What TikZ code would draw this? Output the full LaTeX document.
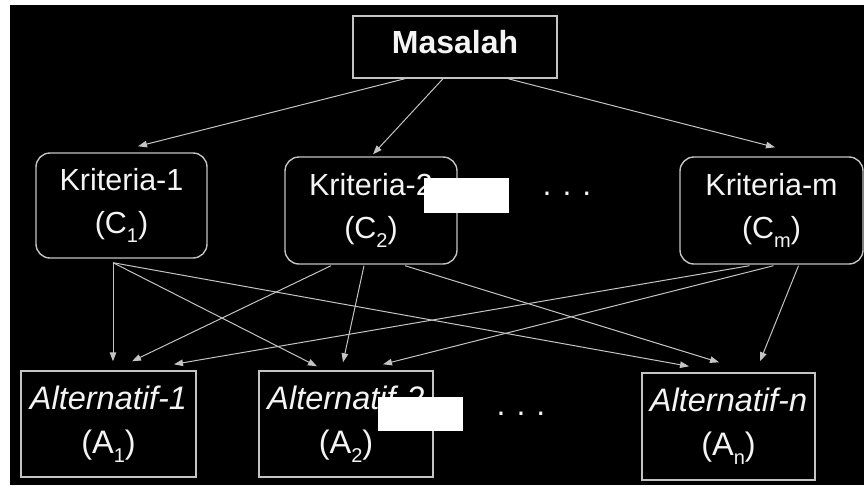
\documentclass[tikz,border=0pt]{standalone}
\usepackage{fontspec}
\setmainfont{Liberation Sans}
\usetikzlibrary{arrows.meta}
\definecolor{edge}{HTML}{C4C4C4}
\definecolor{ink}{HTML}{F4F4F4}
\newcommand\sbs[1]{\raisebox{-0.28em}{\fontsize{20}{20}\selectfont #1}}
\begin{document}
\begin{tikzpicture}[x=1pt,y=-1pt,
  box/.style={draw=edge, line width=1.4pt, text=ink, align=center, inner sep=0pt},
  crit/.style={box, rounded corners=14pt, font=\fontsize{30.5}{43}\selectfont},
  alt/.style={box, font=\fontsize{32.5}{44}\selectfont},
  link/.style={draw=edge, line width=1pt, -{Triangle[length=9pt,width=6.5pt]}},
  dots/.style={text=ink, anchor=base, inner sep=0pt, font=\fontsize{32}{32}\selectfont},
  mask/.style={fill=white},
]
% page and dark canvas
\fill[white] (0,0) rectangle (864,485);
\useasboundingbox (0,0) rectangle (864,485);
\fill[black] (10,5) rectangle (864,485);

% goal
\node[box, minimum width=204pt, minimum height=62pt,
      font=\bfseries\fontsize{32}{38}\selectfont,
      text height=23pt, text depth=10pt] (mas) at (455,47) {Masalah};

% criteria
\node[crit, minimum width=171pt, minimum height=105pt] (k1) at (121.5,205.5) {Kriteria-1\\(C\sbs{1})};
\node[crit, minimum width=172pt, minimum height=107pt] (k2) at (371,210.5) {Kriteria-2\\(C\sbs{2})};
\node[crit, minimum width=183pt, minimum height=107pt] (km) at (771.5,210.5) {Kriteria-m\\(C\sbs{m})};
\node[dots] (kdots) at (567,195.5) {.\hspace{11pt}.\hspace{11pt}.};

% alternatives
\node[alt, minimum width=175pt, minimum height=106pt] (a1) at (108.5,424) {\itshape Alternatif-1\\(A\sbs{1})};
\node[alt, minimum width=174pt, minimum height=106pt] (a2) at (346,424) {\itshape Alternatif-2\\(A\sbs{2})};
\node[alt, minimum width=173pt, minimum height=107pt] (an) at (728.5,426.5) {\itshape Alternatif-n\\(A\sbs{n})};
\node[dots] (adots) at (521,415) {.\hspace{11pt}.\hspace{11pt}.};

% goal to criteria
\draw[link] ([xshift=-50pt]mas.south) -- ([xshift=16.5pt,yshift=6pt]k1.north);
\draw[link] ([xshift=-12pt]mas.south) -- ([xshift=2pt,yshift=2pt]k2.north);
\draw[link] ([xshift=53pt]mas.south) -- ([xshift=3.5pt,yshift=9pt]km.north);

% criteria to alternatives
\draw[link] ([xshift=-8.5pt,yshift=-4pt]k1.south) -- ([xshift=4.5pt,yshift=9pt]a1.north);
\draw[link] ([xshift=-8.5pt,yshift=-4pt]k1.south) -- ([xshift=-29pt,yshift=4pt]a2.north);
\draw[link] ([xshift=-8.5pt,yshift=-4pt]k1.south) -- ([xshift=-39.5pt,yshift=6pt]an.north);

\draw[link] ([xshift=-40pt,yshift=-1pt]k2.south) -- ([xshift=23.5pt,yshift=9pt]a1.north);
\draw[link] ([xshift=-7pt,yshift=-1pt]k2.south) -- ([xshift=-3pt,yshift=8pt]a2.north);
\draw[link] ([xshift=34pt,yshift=-1pt]k2.south) -- ([xshift=-9.5pt,yshift=10pt]an.north);

\draw[link] ([xshift=-22pt,yshift=-1pt]km.south) -- ([xshift=65.5pt,yshift=6pt]a1.north);
\draw[link] ([xshift=2pt,yshift=-1pt]km.south) -- ([xshift=37pt,yshift=6pt]a2.north);
\draw[link] ([xshift=27pt,yshift=-1pt]km.south) -- ([xshift=31.5pt,yshift=11pt]an.north);

% white patches over part of the labels
\fill[mask] (424,178) rectangle (509,213);
\fill[mask] (378,397) rectangle (463,431);
\end{tikzpicture}
\end{document}
